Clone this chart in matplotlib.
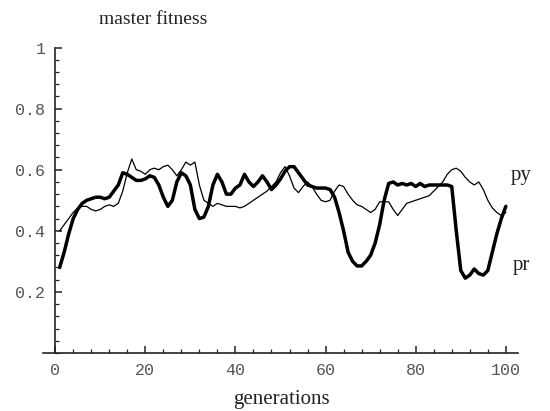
import matplotlib
matplotlib.use("Agg")
import matplotlib.pyplot as plt
from matplotlib.ticker import MultipleLocator, FixedLocator

generations = list(range(1, 101))

pr = [0.28, 0.33, 0.39, 0.44, 0.47, 0.49, 0.50, 0.505, 0.51, 0.51,
      0.505, 0.51, 0.53, 0.55, 0.59, 0.585, 0.575, 0.565, 0.565, 0.57,
      0.58, 0.575, 0.55, 0.51, 0.48, 0.50, 0.56, 0.59, 0.58, 0.55,
      0.47, 0.44, 0.445, 0.48, 0.55, 0.585, 0.56, 0.52, 0.52, 0.54,
      0.55, 0.585, 0.56, 0.545, 0.56, 0.58, 0.56, 0.535, 0.55, 0.57,
      0.595, 0.61, 0.61, 0.59, 0.57, 0.55, 0.545, 0.54, 0.54, 0.54,
      0.535, 0.51, 0.46, 0.40, 0.33, 0.30, 0.285, 0.285, 0.30, 0.32,
      0.36, 0.42, 0.50, 0.555, 0.56, 0.55, 0.555, 0.55, 0.555, 0.545,
      0.555, 0.545, 0.55, 0.55, 0.55, 0.55, 0.55, 0.545, 0.40, 0.27,
      0.245, 0.255, 0.275, 0.26, 0.255, 0.27, 0.33, 0.39, 0.44, 0.48]

py = [0.40, 0.42, 0.44, 0.46, 0.475, 0.48, 0.48, 0.47, 0.465, 0.47,
      0.48, 0.485, 0.48, 0.49, 0.53, 0.59, 0.635, 0.60, 0.595, 0.585,
      0.60, 0.605, 0.60, 0.61, 0.615, 0.60, 0.58, 0.60, 0.625, 0.615,
      0.625, 0.55, 0.50, 0.49, 0.48, 0.49, 0.485, 0.48, 0.48, 0.48,
      0.475, 0.48, 0.49, 0.50, 0.51, 0.52, 0.53, 0.545, 0.56, 0.59,
      0.61, 0.58, 0.54, 0.525, 0.545, 0.56, 0.545, 0.52, 0.50, 0.495,
      0.50, 0.53, 0.55, 0.545, 0.52, 0.50, 0.485, 0.48, 0.47, 0.46,
      0.47, 0.495, 0.495, 0.495, 0.47, 0.45, 0.47, 0.49, 0.495, 0.50,
      0.505, 0.51, 0.515, 0.53, 0.545, 0.56, 0.585, 0.60, 0.605, 0.595,
      0.575, 0.56, 0.55, 0.56, 0.535, 0.50, 0.475, 0.46, 0.45, 0.46]

x_ticks = [0, 20, 40, 60, 80, 100]
y_ticks = [0.2, 0.4, 0.6, 0.8, 1.0]
y_tick_labels = ["0.2", "0.4", "0.6", "0.8", "1"]

fig = plt.figure(figsize=(5.5, 4.11), dpi=100)
ax = fig.add_axes([43 / 550, 58 / 411, 475 / 550, 307 / 411])

ax.plot(generations, py, color="black", lw=0.9, solid_joinstyle="round")
ax.plot(generations, pr, color="black", lw=2.5, solid_joinstyle="round",
        solid_capstyle="round")

ax.set_xlim(-2.7, 102.7)
ax.set_ylim(0, 1.005)

for s in ["top", "right"]:
    ax.spines[s].set_visible(False)
ax.spines["left"].set_position(("data", 0))
ax.spines["bottom"].set_position(("data", 0))
ax.spines["left"].set_bounds(0, 1.0)
for s in ["left", "bottom"]:
    ax.spines[s].set_linewidth(1.2)
    ax.spines[s].set_color("#222222")

ax.xaxis.set_major_locator(FixedLocator(x_ticks))
ax.xaxis.set_minor_locator(MultipleLocator(4))
ax.yaxis.set_major_locator(FixedLocator(y_ticks))
ax.set_yticklabels(y_tick_labels)
ax.yaxis.set_minor_locator(MultipleLocator(0.04))

mono = "Liberation Mono"
ax.tick_params(which="major", direction="in", length=5, width=1.1,
               labelsize=12, colors="#222222", labelcolor="#555555", pad=7)
ax.tick_params(which="minor", direction="in", length=3, width=0.9,
               colors="#222222")
for lab in ax.get_xticklabels() + ax.get_yticklabels():
    lab.set_fontfamily(mono)

serif = "Liberation Serif"
fig.text(153 / 550, 1 - 20 / 411, "master fitness", ha="center", va="center",
         fontsize=14, family=serif, color="#222222")
fig.text(281 / 550, 1 - 399 / 411, "generations", ha="center", va="center",
         fontsize=15, family=serif, color="#222222")
ax.text(103.5, 0.58, "py", ha="center", va="center", fontsize=15,
        family=serif, color="#222222", clip_on=False)
ax.text(103.5, 0.285, "pr", ha="center", va="center", fontsize=15,
        family=serif, color="#222222", clip_on=False)

fig.savefig("out.png", dpi=100)
